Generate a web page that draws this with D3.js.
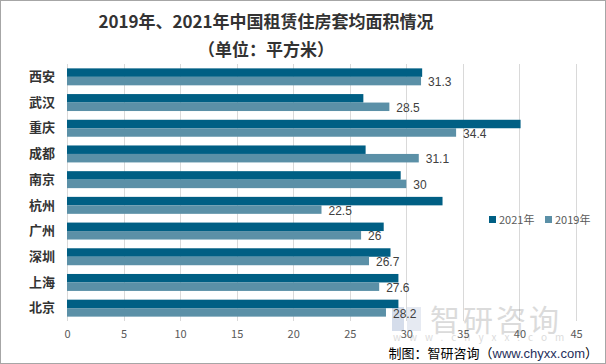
<!DOCTYPE html>
<html><head><meta charset="utf-8">
<script src="https://cdn.jsdelivr.net/npm/d3@7/dist/d3.min.js"></script>
<style>body{margin:0;background:#fff}svg{display:block}</style>
</head><body>
<svg id="c" width="606" height="364"></svg>
<script>
const categories = ["西安","武汉","重庆","成都","南京","杭州","广州","深圳","上海","北京"];
const values2021 = [31.4, 26.2, 40.1, 26.4, 29.5, 33.2, 28.0, 28.6, 29.3, 29.3];
const values2019 = [31.3, 28.5, 34.4, 31.1, 30, 22.5, 26, 26.7, 27.6, 28.2];
const xTicks = [0,5,10,15,20,25,30,35,40,45];
const seriesNames = ["2021年","2019年"];
const colors = ["#005f84","#5b90a7"];

const svg = d3.select("#c");
const font = "'Noto Sans CJK SC','Noto Sans',sans-serif";
svg.append("rect").attr("x",0.5).attr("y",0.5).attr("width",605).attr("height",363)
  .attr("fill","#fff").attr("stroke","#a6a6a6");

const x = d3.scaleLinear().domain([0,45]).range([67,576]);
const y = d3.scaleBand().domain(categories).range([64,321]).paddingInner(0.34).paddingOuter(0.17);
const ys = d3.scaleBand().domain([0,1]).range([0,y.bandwidth()]);

// gridlines
svg.append("g").selectAll("line").data(xTicks).join("line")
  .attr("x1",d=>Math.round(x(d))+0.5).attr("x2",d=>Math.round(x(d))+0.5)
  .attr("y1",64).attr("y2",321).attr("stroke","#d9d9d9").attr("stroke-width",1);

// watermark (behind axis labels)
const wm = svg.append("g").attr("opacity",0.35);
wm.append("rect").attr("x",392).attr("y",307).attr("width",12).attr("height",24).attr("fill","#8aa0c8");
wm.append("rect").attr("x",407).attr("y",307).attr("width",14).attr("height",24).attr("fill","#b8c4dc");
wm.append("text").attr("x",430).attr("y",331).attr("font-family",font).attr("font-size",30)
  .attr("fill","#9a9a9a").attr("letter-spacing",3).text("智研咨询");
wm.append("text").attr("x",393).attr("y",341).attr("font-family",font).attr("font-size",10)
  .attr("fill","#9a9a9a").attr("letter-spacing",8).text("www.chyxx.com");

// x axis labels
const xAxis = d3.axisBottom(x).tickValues(xTicks).tickSize(0).tickPadding(0);
const gx = svg.append("g").attr("transform","translate(0,330)").call(xAxis);
gx.select(".domain").remove();
gx.selectAll("text").attr("font-family",font).attr("font-size",11).attr("fill","#595959");

// y axis labels
const yAxis = d3.axisLeft(y).tickSize(0).tickPadding(0);
const gy = svg.append("g").attr("transform","translate(55,0)").call(yAxis);
gy.select(".domain").remove();
gy.selectAll("text").attr("font-family",font).attr("font-size",13).attr("font-weight","bold").attr("fill","#333");

// bars
const series = [values2021, values2019];
series.forEach((vals,si)=>{
  svg.append("g").selectAll("rect").data(categories).join("rect")
    .attr("x",x(0)).attr("y",(c)=>y(c)+ys(si))
    .attr("width",(c,i)=>x(vals[i])-x(0)).attr("height",ys.bandwidth())
    .attr("fill",colors[si]);
});

// data labels for 2019
svg.append("g").selectAll("text").data(categories).join("text")
  .attr("x",(c,i)=>x(values2019[i])+7)
  .attr("y",c=>y(c)+ys(1)+ys.bandwidth()/2+1)
  .attr("dy","0.35em")
  .attr("font-family","'Liberation Sans',Arial,sans-serif").attr("font-size",12).attr("fill","#404040")
  .text((c,i)=>values2019[i]);

// title
svg.append("text").attr("x",266).attr("y",28).attr("text-anchor","middle")
  .attr("font-family",font).attr("font-size",17).attr("font-weight","bold").attr("fill","#333")
  .text("2019年、2021年中国租赁住房套均面积情况");
svg.append("text").attr("x",266).attr("y",56).attr("text-anchor","middle")
  .attr("font-family",font).attr("font-size",17).attr("font-weight","bold").attr("fill","#333")
  .text("（单位：平方米）");

// legend
const lg = svg.append("g").attr("transform","translate(489,216)");
seriesNames.forEach((n,i)=>{
  const g = lg.append("g").attr("transform",`translate(${i*56},0)`);
  g.append("rect").attr("width",7).attr("height",7).attr("fill",colors[i]);
  g.append("text").attr("x",10).attr("y",8).attr("font-family",font).attr("font-size",11)
    .attr("fill","#595959").text(n);
});

// footer
const ft = svg.append("text").attr("x",598).attr("y",358).attr("text-anchor","end")
  .attr("font-family",font).attr("font-size",13).attr("fill","#000");
ft.append("tspan").text("制图：智研咨询（");
ft.append("tspan").attr("fill","#1f2f5a").attr("font-family","'Liberation Sans',Arial,sans-serif").text("www.chyxx.com");
ft.append("tspan").text("）");
</script>
</body></html>
